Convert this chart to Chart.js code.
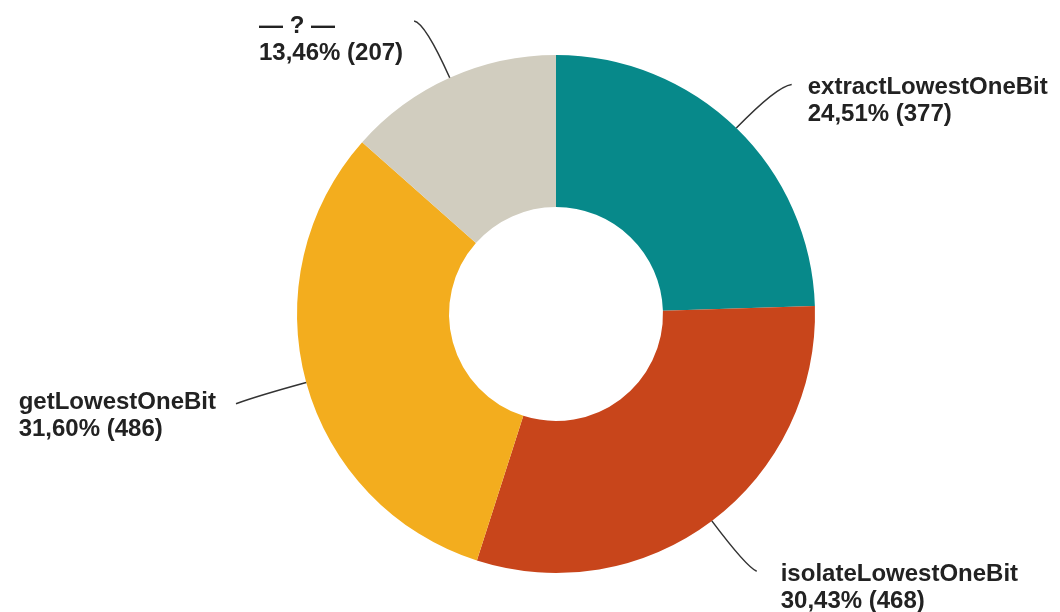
<!DOCTYPE html>
<html>
<head>
<meta charset="utf-8">
<script src="https://cdn.jsdelivr.net/npm/chart.js@4"></script>
<style>
  body { margin: 0; background: #fff; }
  #wrap { width: 1060px; height: 612px; }
</style>
</head>
<body>
<div id="wrap"><canvas id="donutChart" width="1060" height="612"></canvas></div>
<script>
// Data for the donut
const categories = ['extractLowestOneBit', 'isolateLowestOneBit', 'getLowestOneBit', '\u2014 ? \u2014'];
const counts = [377, 468, 486, 207];
const colors = ['#07898a', '#c8451b', '#f3ad1e', '#d1cdbf'];

// leader line layout per slice: radial length, tail offset, text side
const leaders = [
    { ext: 58, tx: 15, ty: -2, side: 'right', gap: 16, dy: 10 },
    { ext: 58, tx: 10, ty: 4, side: 'right', gap: 24, dy: 10 },
    { ext: 50, tx: -22, ty: 8, side: 'left', gap: 20, dy: 5 },
    { ext: 60, tx: -11, ty: -2, side: 'left', gap: 11, dy: 12 }
];

const total = counts.reduce((a, b) => a + b, 0);
const pctText = counts.map(v => (v / total * 100).toFixed(2).replace('.', ',') + '% (' + v + ')');

// draws the curved leader lines and the two-line labels
const calloutPlugin = {
    id: 'callouts',
    afterDatasetsDraw(chart) {
        const ctx = chart.ctx;
        const arcs = chart.getDatasetMeta(0).data;
        ctx.save();
        ctx.font = 'bold 24px "Liberation Sans", Arial, sans-serif';
        arcs.forEach((arc, i) => {
            const p = arc.getProps(['x', 'y', 'startAngle', 'endAngle', 'outerRadius'], true);
            const mid = (p.startAngle + p.endAngle) / 2;
            const cx = Math.cos(mid), cy = Math.sin(mid);
            const L = leaders[i];
            const x0 = p.x + cx * p.outerRadius, y0 = p.y + cy * p.outerRadius;
            const xc = x0 + cx * L.ext, yc = y0 + cy * L.ext;
            const x1 = xc + L.tx, y1 = yc + L.ty;

            ctx.strokeStyle = '#333';
            ctx.lineWidth = 1.5;
            ctx.beginPath();
            ctx.moveTo(x0, y0);
            ctx.quadraticCurveTo(xc, yc, x1, y1);
            ctx.stroke();

            const lines = [categories[i], pctText[i]];
            const w = Math.max(...lines.map(t => ctx.measureText(t).width));
            const tx = L.side === 'right' ? x1 + L.gap : x1 - L.gap - w;
            ctx.fillStyle = '#222';
            ctx.textAlign = 'left';
            ctx.textBaseline = 'alphabetic';
            lines.forEach((t, k) => ctx.fillText(t, tx, y1 + L.dy + k * 27));
        });
        ctx.restore();
    }
};

const config = {
    type: 'doughnut',
    data: {
        labels: categories,
        datasets: [{
            data: counts,
            backgroundColor: colors,
            borderWidth: 0,
            hoverOffset: 0
        }]
    },
    options: {
        responsive: false,
        animation: false,
        cutout: '41.3%',
        rotation: 0,
        layout: { padding: { top: 55, bottom: 39, left: 52, right: 0 } },
        plugins: {
            legend: { display: false },
            tooltip: { enabled: false }
        }
    },
    plugins: [calloutPlugin]
};

new Chart(document.getElementById('donutChart'), config);
</script>
</body>
</html>
